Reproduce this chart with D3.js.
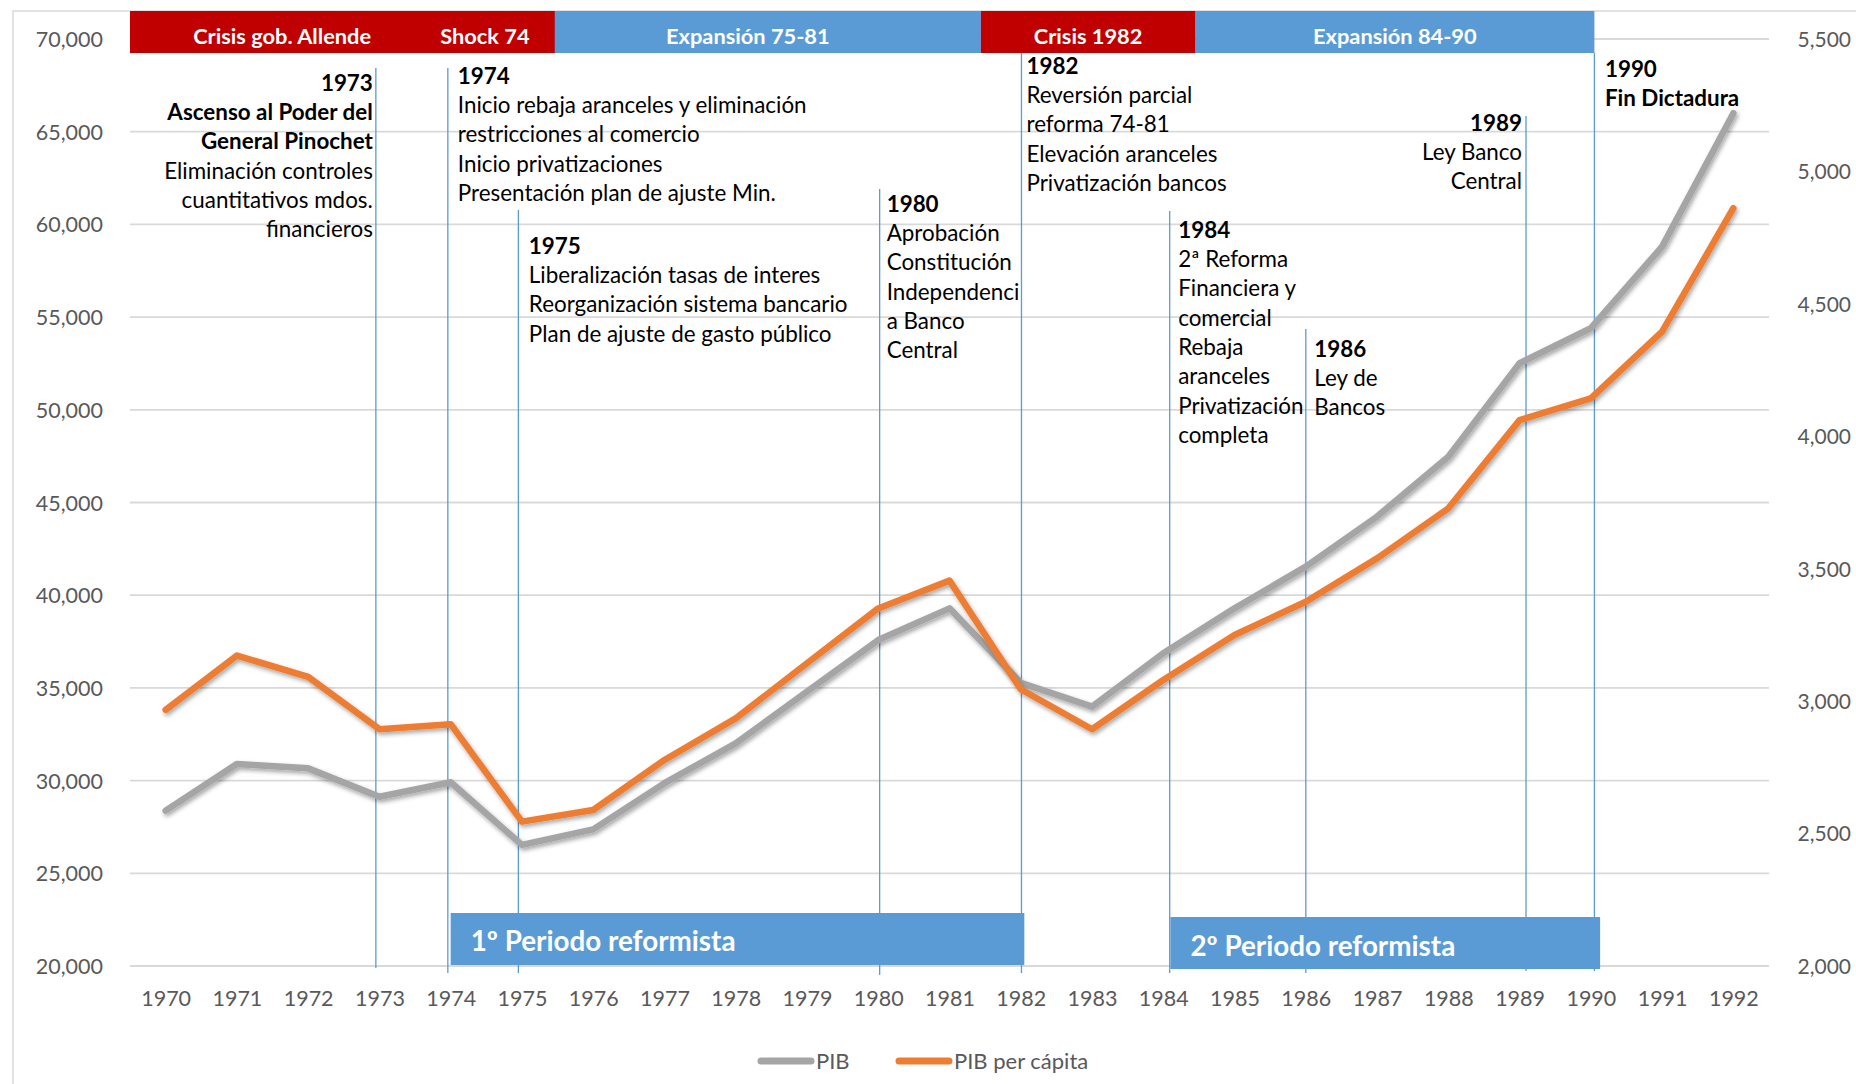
<!DOCTYPE html>
<html>
<head>
<meta charset="utf-8">
<script src="https://cdn.jsdelivr.net/npm/d3@7"></script>
<style>
  html, body { margin: 0; padding: 0; background: #fff; }
  svg { display: block; }
  text { font-family: Lato, "Open Sans", sans-serif; }
</style>
</head>
<body>
<svg id="chart" width="1856" height="1084"></svg>
<script>
// data
const years = d3.range(1970, 1993);
const pib = [28380, 30900, 30660, 29130, 29910, 26530, 27370, 29860, 32010, 34800, 37580, 39290,
             35280, 33990, 36870, 39290, 41540, 44240, 47470, 52510, 54400, 58800, 66000];
const pibPerCapita = [2967, 3172, 3092, 2894, 2913, 2545, 2589, 2778, 2935, 3143, 3350, 3455,
                      3045, 2894, 3080, 3250, 3375, 3539, 3728, 4061, 4143, 4395, 4861];
const seriesNames = ["PIB", "PIB per cápita"];
const leftTicks = d3.range(20000, 70001, 5000);
const rightTicks = d3.range(2000, 5501, 500);

// period bands on top (start / end in year units); later ones are drawn over earlier ones
const topBands = [
    { label: "Expansión 75-81", start: 1974.9, end: 1981.44, kind: "expansion" },
    { label: "Expansión 84-90", start: 1984.45, end: 1990.05, kind: "expansion" },
    { label: "Crisis gob. Allende", start: 1969.5, end: 1973.77, kind: "crisis" },
    { label: "Shock 74", start: 1973.5, end: 1975.46, kind: "crisis" },
    { label: "Crisis 1982", start: 1981.44, end: 1984.45, kind: "crisis" }
];
const reformBands = [
    { label: "1º Periodo reformista", start: 1974.0, end: 1982.05 },
    { label: "2º Periodo reformista", start: 1984.1, end: 1990.13 }
];

// events: where the marker line sits and what is written next to it
const events = [
    { at: 1972.95, lines: [["1973", true], ["Ascenso al Poder del", true], ["General Pinochet", true],
        ["Eliminación controles", false], ["cuantitativos mdos.", false], ["financieros", false]] },
    { at: 1973.96, lines: [["1974", true], ["Inicio rebaja aranceles y eliminación", false],
        ["restricciones al comercio", false], ["Inicio privatizaciones", false],
        ["Presentación plan de ajuste Min.", false]] },
    { at: 1974.95, lines: [["1975", true], ["Liberalización tasas de interes", false],
        ["Reorganización sistema bancario", false], ["Plan de ajuste de gasto público", false]] },
    { at: 1980.02, lines: [["1980", true], ["Aprobación", false], ["Constitución", false],
        ["Independenci", false], ["a Banco", false], ["Central", false]] },
    { at: 1982.01, lines: [["1982", true], ["Reversión parcial", false], ["reforma 74-81", false],
        ["Elevación aranceles", false], ["Privatización bancos", false]] },
    { at: 1984.09, lines: [["1984", true], ["2ª Reforma", false], ["Financiera y", false],
        ["comercial", false], ["Rebaja", false], ["aranceles", false], ["Privatización", false],
        ["completa", false]] },
    { at: 1986.0, lines: [["1986", true], ["Ley de", false], ["Bancos", false]] },
    { at: 1989.09, lines: [["1989", true], ["Ley Banco", false], ["Central", false]] },
    { at: 1990.05, lines: [["1990", true], ["Fin Dictadura", true]] }
];

// layout of the event notes: line top/bottom, text anchor, offset and first row
const eventLayout = [
    { top: 68, bottom: 968, anchor: "end", dx: -3, y: 83 },
    { top: 68, bottom: 973, anchor: "start", dx: 10, y: 76 },
    { top: 210, bottom: 973, anchor: "start", dx: 10.5, y: 246 },
    { top: 189, bottom: 975, anchor: "start", dx: 7, y: 204 },
    { top: 53, bottom: 973, anchor: "start", dx: 5, y: 66 },
    { top: 211, bottom: 973, anchor: "start", dx: 8.5, y: 230 },
    { top: 329, bottom: 973, anchor: "start", dx: 8.5, y: 349 },
    { top: 116, bottom: 971, anchor: "end", dx: -4, y: 123 },
    { top: 53, bottom: 971, anchor: "start", dx: 10.5, y: 69 }
];

const colours = {
    pib: "#A5A5A5",
    perCapita: "#ED7D31",
    crisis: "#C00000",
    expansion: "#5B9BD5",
    eventLine: "#5B9BD5",
    grid: "#D9D9D9",
    axisText: "#595959"
};

const plot = { left: 130, right: 1769, top: 39, bottom: 966 };
const rowStep = 29.3;

const svg = d3.select("#chart");

const x = d3.scaleLinear().domain([1969.5, 1992.5]).range([plot.left, plot.right]);
const yLeft = d3.scaleLinear().domain([20000, 70000]).range([plot.bottom, plot.top]);
const yRight = d3.scaleLinear().domain([2000, 5500]).range([plot.bottom, plot.top]);

// drop shadow like the spreadsheet lines
const defs = svg.append("defs");
defs.append("filter")
    .attr("id", "shadow")
    .attr("x", "-5%").attr("y", "-5%").attr("width", "110%").attr("height", "120%")
    .append("feDropShadow")
    .attr("dx", 1.5).attr("dy", 2.5).attr("stdDeviation", 2)
    .attr("flood-color", "#000").attr("flood-opacity", 0.35);

// chart frame (only top and left edges are inside the picture)
svg.append("path")
    .attr("d", "M13,1084 L13,11 L1856,11")
    .attr("fill", "none")
    .attr("stroke", colours.grid)
    .attr("stroke-width", 1.5);

// gridlines
svg.append("g")
    .selectAll("line")
    .data(leftTicks)
    .join("line")
    .attr("x1", plot.left).attr("x2", plot.right)
    .attr("y1", d => yLeft(d)).attr("y2", d => yLeft(d))
    .attr("stroke", colours.grid)
    .attr("stroke-width", 1.8);

// left axis
const leftAxis = svg.append("g")
    .attr("transform", `translate(${plot.left - 27},0)`)
    .call(d3.axisLeft(yLeft).tickValues(leftTicks).tickFormat(d3.format(",")).tickSize(0).tickPadding(0));
leftAxis.select(".domain").remove();
leftAxis.selectAll("text")
    .attr("font-family", "Lato, sans-serif")
    .attr("font-size", 21.5)
    .attr("fill", colours.axisText)
    .attr("dy", "0.35em");

// right axis
const rightAxis = svg.append("g")
    .attr("transform", `translate(1851,0)`)
    .call(d3.axisLeft(yRight).tickValues(rightTicks).tickFormat(d3.format(",")).tickSize(0).tickPadding(0));
rightAxis.select(".domain").remove();
rightAxis.selectAll("text")
    .attr("font-family", "'DejaVu Sans', Verdana, sans-serif")
    .attr("font-size", 21)
    .attr("fill", colours.axisText)
    .attr("dy", "0.35em");

// x axis (category labels)
const xAxis = svg.append("g")
    .attr("transform", `translate(0,${plot.bottom})`)
    .call(d3.axisBottom(x).tickValues(years).tickFormat(d3.format("d")).tickSize(0).tickPadding(32));
xAxis.select(".domain").remove();
xAxis.selectAll("text")
    .attr("font-family", "Lato, sans-serif")
    .attr("font-size", 21.5)
    .attr("fill", colours.axisText)
    .attr("dy", "0.35em");

// event marker lines
svg.append("g")
    .selectAll("line")
    .data(events)
    .join("line")
    .attr("x1", d => x(d.at)).attr("x2", d => x(d.at))
    .attr("y1", (d, i) => eventLayout[i].top)
    .attr("y2", (d, i) => eventLayout[i].bottom)
    .attr("stroke", colours.eventLine)
    .attr("stroke-width", 1.3);

// reform period boxes
const reform = svg.append("g");
reform.selectAll("rect")
    .data(reformBands)
    .join("rect")
    .attr("x", d => x(d.start))
    .attr("y", (d, i) => 913 + i * 4)
    .attr("width", d => x(d.end) - x(d.start))
    .attr("height", 52)
    .attr("fill", colours.expansion);
reform.selectAll("text")
    .data(reformBands)
    .join("text")
    .attr("x", d => x(d.start) + 20)
    .attr("y", (d, i) => 941 + i * 5)
    .attr("dy", "0.35em")
    .attr("font-size", 27.8)
    .attr("font-weight", "bold")
    .attr("fill", "#fff")
    .text(d => d.label);

// top period bands
const bands = svg.append("g");
bands.selectAll("rect")
    .data(topBands)
    .join("rect")
    .attr("x", d => x(d.start))
    .attr("y", 11)
    .attr("width", d => x(d.end) - x(d.start))
    .attr("height", 42)
    .attr("fill", d => colours[d.kind]);
bands.selectAll("text")
    .data(topBands)
    .join("text")
    .attr("x", d => (x(d.start) + x(d.end)) / 2)
    .attr("y", 36)
    .attr("dy", "0.35em")
    .attr("text-anchor", "middle")
    .attr("font-size", 21.8)
    .attr("font-weight", "bold")
    .attr("fill", "#fff")
    .text(d => d.label);

// event notes
const notes = svg.append("g");
events.forEach((ev, i) => {
    const lay = eventLayout[i];
    const t = notes.append("text")
        .attr("text-anchor", lay.anchor)
        .attr("font-size", 22.4)
        .attr("fill", "#000");
    ev.lines.forEach(([txt, bold], k) => {
        t.append("tspan")
            .attr("x", x(ev.at) + lay.dx)
            .attr("y", lay.y + k * rowStep)
            .attr("dy", "0.35em")
            .attr("font-weight", bold ? "bold" : "normal")
            .text(txt);
    });
});

// series lines
const series = [
    { name: seriesNames[0], values: pib, scale: yLeft, colour: colours.pib },
    { name: seriesNames[1], values: pibPerCapita, scale: yRight, colour: colours.perCapita }
];

series.forEach(s => {
    const line = d3.line()
        .x((d, i) => x(years[i]))
        .y(d => s.scale(d));
    svg.append("path")
        .datum(s.values)
        .attr("d", line)
        .attr("fill", "none")
        .attr("stroke", s.colour)
        .attr("stroke-width", 6.5)
        .attr("stroke-linejoin", "round")
        .attr("stroke-linecap", "round")
        .attr("filter", "url(#shadow)");
});

// legend
const legend = svg.append("g").attr("transform", "translate(758,1061)");
const legendItems = legend.selectAll("g")
    .data(series)
    .join("g")
    .attr("transform", (d, i) => `translate(${i * 138},0)`);
legendItems.append("line")
    .attr("x1", 3).attr("x2", 53)
    .attr("stroke", d => d.colour)
    .attr("stroke-width", 7)
    .attr("stroke-linecap", "round");
legendItems.append("text")
    .attr("x", 58)
    .attr("dy", "0.35em")
    .attr("font-size", 22)
    .attr("fill", colours.axisText)
    .text(d => d.name);
</script>
</body>
</html>
